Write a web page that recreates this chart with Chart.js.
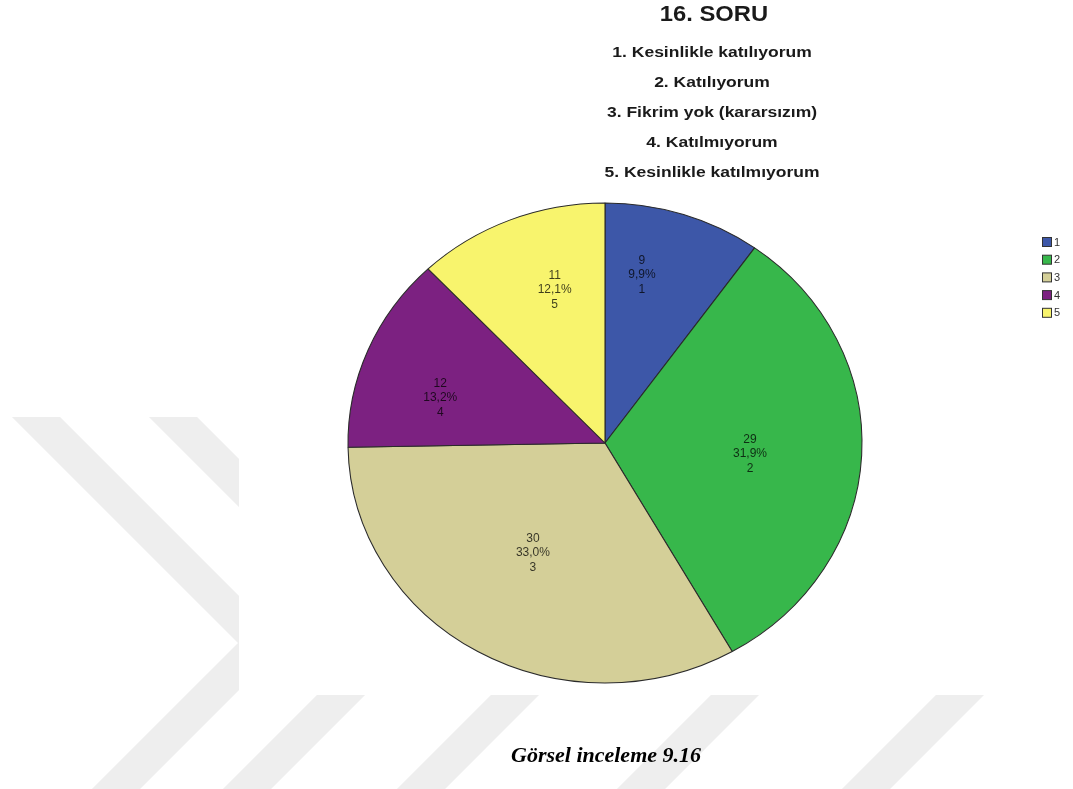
<!DOCTYPE html>
<html>
<head>
<meta charset="utf-8">
<script src="https://cdn.jsdelivr.net/npm/chart.js@4/dist/chart.umd.min.js"></script>
<style>
  html, body { margin: 0; padding: 0; background: #ffffff; }
  canvas { display: block; }
</style>
</head>
<body>
<canvas id="chart" width="1073" height="789"></canvas>
<script>
// Answer codes and how many respondents picked each one
const categories = ['1', '2', '3', '4', '5'];
const counts = [9, 29, 30, 12, 11];

// Header texts
const chartTitle = '16. SORU';
const optionTexts = [
  '1. Kesinlikle katılıyorum',
  '2. Katılıyorum',
  '3. Fikrim yok (kararsızım)',
  '4. Katılmıyorum',
  '5. Kesinlikle katılmıyorum'
];
const captionText = 'Görsel inceleme 9.16';

// Slice fills
const sliceColors = ['#3d57a8', '#37b74b', '#d4cf98', '#7c2181', '#f8f46d'];

// Where each slice label sits: fraction of the radius and a small turn (deg) off the mid-angle
const labelRadius = [0.715, 0.566, 0.537, 0.668, 0.668];
const labelTurn = [-6.2, 1.6, 1.8, -6.4, 4.7];

// The pie is drawn slightly wider than tall
const X_STRETCH = 257 / 240;

const total = counts.reduce((a, b) => a + b, 0);
const pct = v => (v / total * 100).toFixed(1).replace('.', ',') + '%';

function stretchedText(ctx, text, cx, cy, font, sx, color) {
  ctx.save();
  ctx.font = font;
  ctx.fillStyle = color;
  ctx.textAlign = 'center';
  ctx.textBaseline = 'middle';
  ctx.translate(cx, cy);
  ctx.scale(sx, 1);
  ctx.fillText(text, 0, 0);
  ctx.restore();
}

// Light chevron watermark behind everything, only outside the white figure panel
const watermark = {
  id: 'watermark',
  beforeDraw(chart) {
    const ctx = chart.ctx;
    ctx.save();
    ctx.fillStyle = '#ffffff';
    ctx.fillRect(0, 0, chart.width, chart.height);
    ctx.beginPath();
    ctx.rect(0, 417, 239, 278);
    ctx.rect(0, 695, chart.width, chart.height - 695);
    ctx.clip();
    ctx.strokeStyle = '#eeeeee';
    ctx.lineWidth = 34;
    ctx.lineCap = 'butt';
    const arms = [
      [[-60, 321], [262, 643], [-60, 965]],
      [[100, 344], [396, 640], [-60, 1096]]
    ];
    arms.forEach(pts => {
      ctx.beginPath();
      ctx.moveTo(pts[0][0], pts[0][1]);
      for (let i = 1; i < pts.length; i++) ctx.lineTo(pts[i][0], pts[i][1]);
      ctx.stroke();
    });
    [1210, 1430, 1655].forEach(c => {
      ctx.beginPath();
      ctx.moveTo(c - 650, 650);
      ctx.lineTo(c - 850, 850);
      ctx.stroke();
    });
    ctx.restore();
  }
};

// Stretches the pie horizontally, then writes the slice labels, header, legend and caption
const decorations = {
  id: 'decorations',
  beforeDatasetsDraw(chart) {
    const ctx = chart.ctx;
    const arc = chart.getDatasetMeta(0).data[0];
    ctx.save();
    ctx.translate(arc.x, 0);
    ctx.scale(X_STRETCH, 1);
    ctx.translate(-arc.x, 0);
  },
  afterDatasetsDraw(chart) {
    const ctx = chart.ctx;
    ctx.restore();

    // slice labels: count, percentage, code
    const arcs = chart.getDatasetMeta(0).data;
    arcs.forEach((arc, i) => {
      const p = arc.getProps(['x', 'y', 'startAngle', 'endAngle', 'outerRadius'], true);
      const mid = (p.startAngle + p.endAngle) / 2 + labelTurn[i] * Math.PI / 180;
      const r = p.outerRadius * labelRadius[i];
      const lx = p.x + Math.cos(mid) * r * X_STRETCH;
      const ly = p.y + Math.sin(mid) * r;
      const lines = [String(counts[i]), pct(counts[i]), categories[i]];
      ctx.save();
      ctx.font = '12px "Liberation Sans", Arial, sans-serif';
      ctx.fillStyle = 'rgba(0,0,0,0.75)';
      ctx.textAlign = 'center';
      ctx.textBaseline = 'middle';
      lines.forEach((t, k) => ctx.fillText(t, lx, ly + (k - 1) * 14.5));
      ctx.restore();
    });

    // header
    stretchedText(ctx, chartTitle, 714, 15, 'bold 22px "Liberation Sans", Arial, sans-serif', 1.08, '#1a1a1a');
    optionTexts.forEach((t, i) => {
      stretchedText(ctx, t, 712, 53 + i * 30, 'bold 14px "Liberation Sans", Arial, sans-serif', 1.25, '#1a1a1a');
    });

    // legend
    ctx.save();
    ctx.font = '11px "Liberation Sans", Arial, sans-serif';
    ctx.textAlign = 'left';
    ctx.textBaseline = 'middle';
    categories.forEach((c, i) => {
      const y = 237 + i * 17.7;
      ctx.fillStyle = sliceColors[i];
      ctx.fillRect(1042.5, y + 0.5, 9, 9);
      ctx.strokeStyle = '#333333';
      ctx.lineWidth = 1;
      ctx.strokeRect(1042.5, y + 0.5, 9, 9);
      ctx.fillStyle = '#333333';
      ctx.fillText(c, 1054, y + 5.5);
    });
    ctx.restore();

    // caption under the figure
    ctx.save();
    ctx.font = 'italic bold 22px "Liberation Serif", "Times New Roman", serif';
    ctx.fillStyle = '#000000';
    ctx.textAlign = 'center';
    ctx.textBaseline = 'alphabetic';
    ctx.fillText(captionText, 606, 762);
    ctx.restore();
  }
};

new Chart(document.getElementById('chart'), {
  type: 'pie',
  data: {
    labels: categories,
    datasets: [{
      data: counts,
      backgroundColor: sliceColors,
      borderColor: '#2a2a2a',
      borderWidth: 1,
      clip: false
    }]
  },
  options: {
    responsive: false,
    animation: false,
    layout: { padding: { top: 202.5, bottom: 105.5, left: 305, right: 168 } },
    plugins: {
      legend: { display: false },
      title: { display: false },
      tooltip: { enabled: false }
    }
  },
  plugins: [watermark, decorations]
});
</script>
</body>
</html>
